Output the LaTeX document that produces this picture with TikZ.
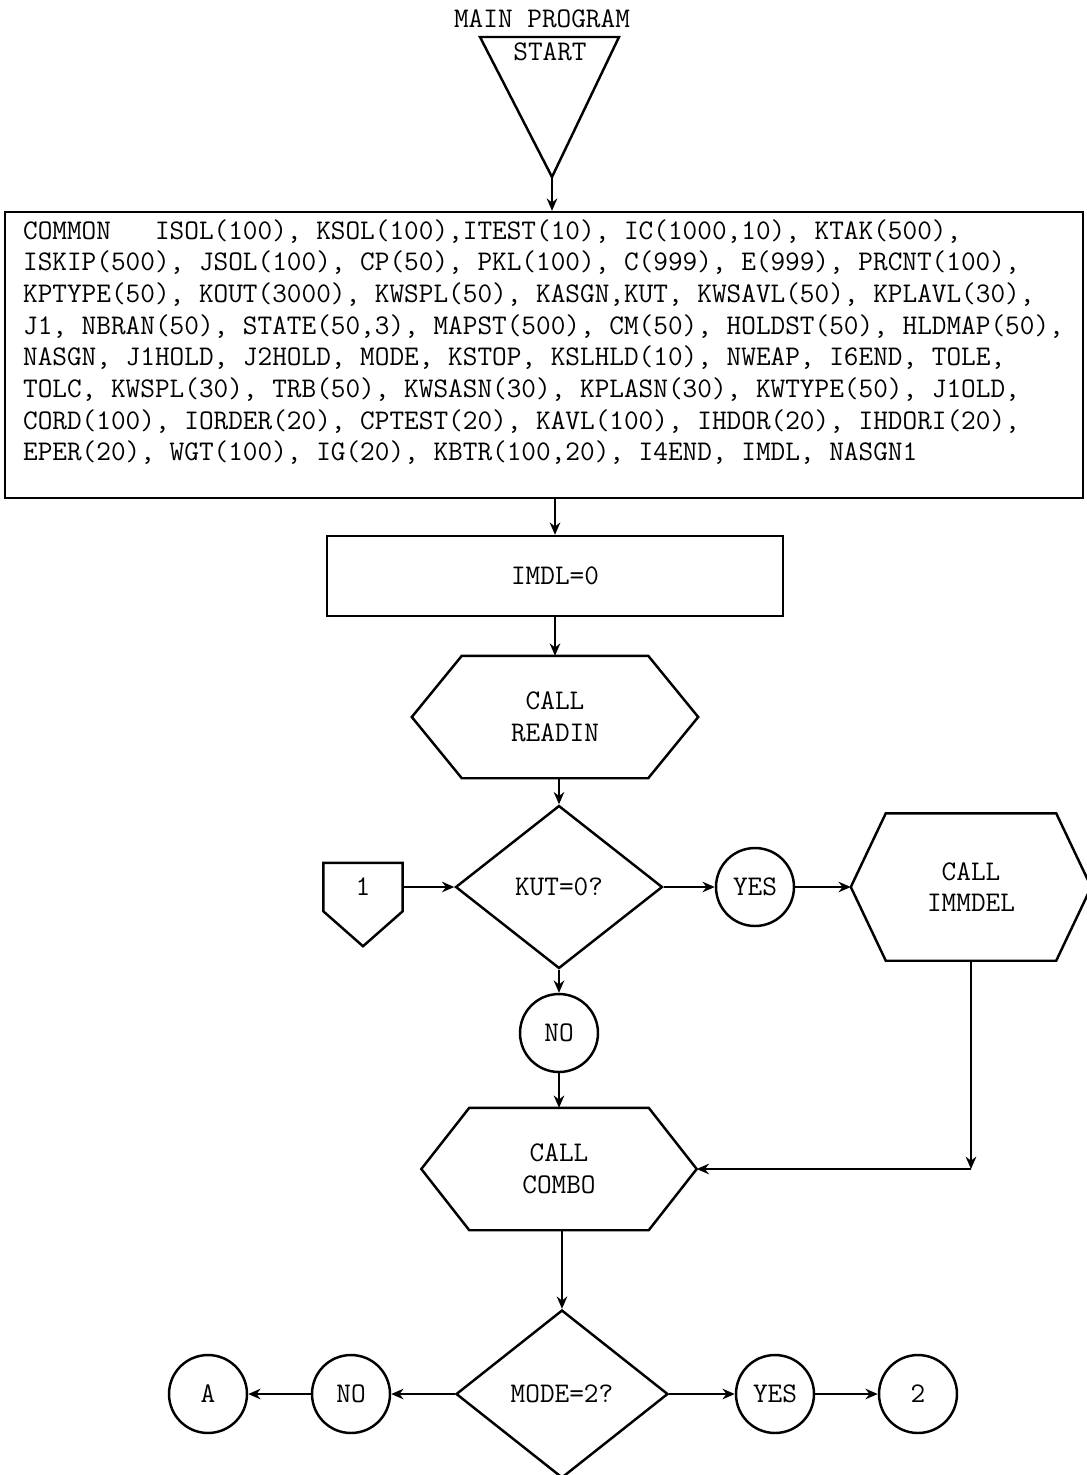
\documentclass[tikz,border=0pt]{standalone}
\usepackage{tikz}
\usetikzlibrary{arrows.meta,positioning,shapes.geometric}
\tikzset{% 
  flow/.style={%
    ->,
    >={Stealth[length=7pt,width=6pt]}
  }
}
\tikzset{% 
  common box/.style={%
    draw,
    inner xsep=0.36cm,
    inner ysep=0.15cm
  }
}
\tikzset{% 
  process box/.style={%
    draw,
    minimum width=9.12cm,
    minimum height=1.6cm
  }
}
\tikzset{% 
  call box/.style n args={3}{%
    minimum width=#1,
    minimum height=#2,
    align=center,
    append after command={%
      \pgfextra{%
        \draw ([xshift=#3]\tikzlastnode.north west)
          -- ([xshift=-#3]\tikzlastnode.north east)
          -- (\tikzlastnode.east)
          -- ([xshift=-#3]\tikzlastnode.south east)
          -- ([xshift=#3]\tikzlastnode.south west)
          -- (\tikzlastnode.west) -- cycle;
      }
    }
  }
}
\tikzset{% 
  decision/.style={%
    draw,
    diamond,
    inner sep=0pt
  }
}
\tikzset{% 
  connector/.style={%
    draw,
    circle,
    inner sep=0pt,
    minimum size=1.56cm
  }
}
\tikzset{% 
  off page/.style={%
    minimum width=1.54cm,
    minimum height=0.92cm,
    append after command={%
      \pgfextra{%
        \draw (\tikzlastnode.north west) -- (\tikzlastnode.north east)
          -- (\tikzlastnode.south east) -- ([yshift=-0.7cm]\tikzlastnode.south)
          -- (\tikzlastnode.south west) -- cycle;
      }
    }
  }
}

\begin{document}
\begin{tikzpicture}[x=0.02cm,y=-0.02cm,line width=1.4pt,
    font=\ttfamily\fontsize{16.2}{18}\selectfont]
  \useasboundingbox (0,0) rectangle (1086,1475);
  % start triangle
  \node (title) at (542,19) {MAIN PROGRAM};
  \coordinate (tl) at (480,37);
  \coordinate (tr) at (619,37);
  \coordinate (start) at (552,177);
  \draw (tl) -- (tr) -- (start) -- cycle;
  \node (startlbl) at (550,52) {START};
  \node [common box] (common) at (544,355) {\parbox[c][5.42cm][t]{20.84cm}{\frenchspacing
    COMMON\ \ \ ISOL(100), KSOL(100),ITEST(10), IC(1000,10), KTAK(500),\\
    ISKIP(500), JSOL(100), CP(50), PKL(100), C(999), E(999), PRCNT(100),\\
    KPTYPE(50), KOUT(3000), KWSPL(50), KASGN,KUT, KWSAVL(50), KPLAVL(30),\\
    J1, NBRAN(50), STATE(50,3), MAPST(500), CM(50), HOLDST(50), HLDMAP(50),\\
    NASGN, J1HOLD, J2HOLD, MODE, KSTOP, KSLHLD(10), NWEAP, I6END, TOLE,\\
    TOLC, KWSPL(30), TRB(50), KWSASN(30), KPLASN(30), KWTYPE(50), J1OLD,\\
    CORD(100), IORDER(20), CPTEST(20), KAVL(100), IHDOR(20), IHDORI(20),\\
    EPER(20), WGT(100), IG(20), KBTR(100,20), I4END, IMDL, NASGN1}};
  \node [process box] (imdl) at (555,576) {IMDL=0};
  \node [call box={5.68cm}{2.4cm}{1cm}] (readin) at (555,717) {CALL\\READIN};
  \node [decision, minimum width=4.14cm, minimum height=3.26cm] (kut) at (559,887) {KUT=0?};
  \node [off page] (one) at (363,887) {1};
  \node [connector] (yes1) at (755,887) {YES};
  \node [call box={4.76cm}{2.9cm}{0.7cm}] (immdel) at (971,887) {CALL\\IMMDEL};
  \node [connector] (no1) at (559,1033) {NO};
  \node [call box={5.46cm}{2.4cm}{0.96cm}] (combo) at (559,1169) {CALL\\COMBO};
  \node [decision, minimum width=4.24cm, minimum height=3.36cm] (mode) at (562,1394) {MODE=2?};
  \node [connector] (no2) at (351,1394) {NO};
  \node [connector] (a) at (208,1394) {A};
  \node [connector] (yes2) at (775,1394) {YES};
  \node [connector] (two) at (918,1394) {2};
  \coordinate (bend) at (immdel.south |- combo.east);
  % connectors
  \draw [flow] (start) -- (start |- common.north);
  \draw [flow] (common.south -| imdl.north) -- (imdl.north);
  \draw [flow] (imdl.south) -- (readin.north);
  \draw [flow] (readin.south -| kut.north) -- (kut.north);
  \draw [flow] (one.east) -- (kut.west);
  \draw [flow] (kut.east) -- (yes1.west);
  \draw [flow] (yes1.east) -- (immdel.west);
  \draw [flow] (kut.south) -- (no1.north);
  \draw [flow] (no1.south) -- (combo.north);
  \draw [flow] (immdel.south) -- (bend);
  \draw [flow] (bend) -- (combo.east);
  \draw [flow] (combo.south -| mode.north) -- (mode.north);
  \draw [flow] (mode.west) -- (no2.east);
  \draw [flow] (no2.west) -- (a.east);
  \draw [flow] (mode.east) -- (yes2.west);
  \draw [flow] (yes2.east) -- (two.west);
\end{tikzpicture}
\end{document}
